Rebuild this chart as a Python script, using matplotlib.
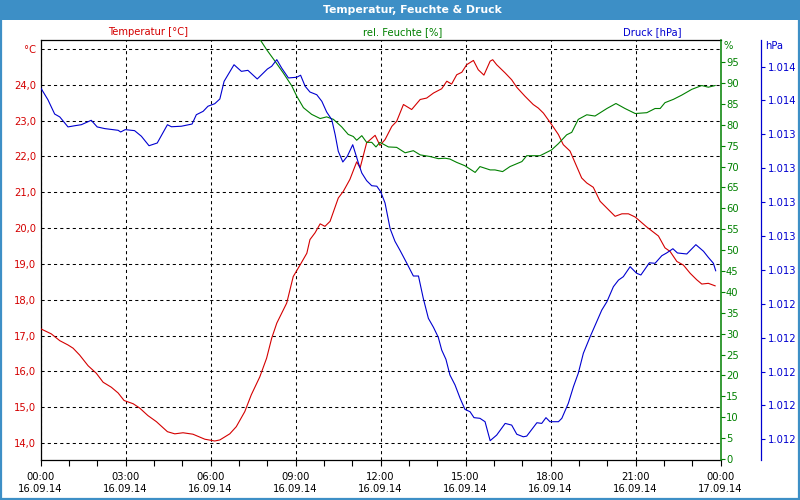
import matplotlib
matplotlib.use("Agg")
import matplotlib.pyplot as plt
from matplotlib.patches import Rectangle
from matplotlib.ticker import FixedLocator, FixedFormatter, MultipleLocator

plt.rcParams['font.family'] = ['DejaVu Sans']

# ---------------- data ----------------
temp_hours = [0.01, 0.38, 0.68, 0.97, 1.15, 1.38, 1.68, 1.97, 2.21, 2.50, 2.74, 2.95, 3.27, 3.50,
              3.79, 4.09, 4.48, 4.74, 5.03, 5.38, 5.80, 6.15, 6.33, 6.68, 6.91, 7.21, 7.44, 7.74,
              7.98, 8.16, 8.34, 8.69, 8.92, 9.16, 9.40, 9.51, 9.69, 9.87, 10.04, 10.22, 10.51,
              10.69, 10.92, 11.16, 11.28, 11.51, 11.81, 11.98, 12.16, 12.40, 12.57, 12.81, 13.10,
              13.40, 13.63, 13.87, 14.16, 14.34, 14.51, 14.69, 14.87, 15.04, 15.28, 15.45, 15.65,
              15.87, 15.96, 16.10, 16.40, 16.63, 16.81, 17.10, 17.39, 17.57, 17.75, 18.04, 18.28,
              18.45, 18.69, 18.87, 19.10, 19.28, 19.51, 19.75, 20.04, 20.28, 20.52, 20.75, 20.99,
              21.40, 21.81, 22.04, 22.22, 22.46, 22.69, 22.93, 23.16, 23.34, 23.57, 23.81]
temperature = [17.19, 17.05, 16.86, 16.74, 16.65, 16.46, 16.16, 15.95, 15.70, 15.56, 15.40, 15.19,
               15.10, 14.98, 14.77, 14.60, 14.32, 14.26, 14.29, 14.25, 14.11, 14.06, 14.09, 14.26,
               14.46, 14.88, 15.35, 15.85, 16.37, 16.93, 17.35, 17.91, 18.65, 18.97, 19.30, 19.68,
               19.87, 20.12, 20.05, 20.19, 20.84, 21.03, 21.36, 21.85, 21.68, 22.38, 22.59, 22.31,
               22.47, 22.84, 22.98, 23.45, 23.31, 23.59, 23.63, 23.77, 23.89, 24.10, 24.02, 24.28,
               24.35, 24.56, 24.68, 24.42, 24.27, 24.66, 24.70, 24.56, 24.33, 24.14, 23.93, 23.68,
               23.45, 23.35, 23.21, 22.89, 22.61, 22.33, 22.15, 21.82, 21.40, 21.26, 21.14, 20.75,
               20.52, 20.33, 20.40, 20.40, 20.31, 20.03, 19.78, 19.45, 19.35, 19.07, 18.97, 18.74,
               18.56, 18.44, 18.46, 18.39]

hum_hours = [7.75, 7.98, 8.28, 8.57, 8.87, 9.04, 9.28, 9.57, 9.87, 10.10, 10.34, 10.63, 10.86,
             11.04, 11.16, 11.34, 11.51, 11.69, 11.84, 11.98, 12.28, 12.57, 12.87, 13.16, 13.40,
             13.75, 14.04, 14.28, 14.45, 14.69, 14.98, 15.34, 15.51, 15.87, 16.04, 16.31, 16.57,
             16.99, 17.16, 17.63, 18.04, 18.28, 18.57, 18.75, 18.98, 19.28, 19.57, 19.99, 20.31,
             20.63, 20.99, 21.40, 21.69, 21.87, 22.04, 22.34, 22.63, 22.99, 23.34, 23.57, 23.81]
humidity = [100.4, 98.0, 95.2, 92.4, 89.3, 86.9, 84.1, 82.5, 81.5, 81.9, 81.3, 79.5, 77.7, 77.2,
            76.3, 77.4, 75.8, 75.8, 74.7, 75.8, 74.7, 74.6, 73.3, 73.8, 72.8, 72.4, 71.9, 72.0,
            71.8, 71.0, 70.2, 68.6, 70.0, 69.2, 69.2, 68.8, 70.0, 71.2, 72.6, 72.6, 74.0, 75.5,
            77.6, 78.2, 81.3, 82.4, 82.1, 83.9, 85.1, 83.9, 82.7, 82.9, 83.9, 83.9, 85.3, 86.1,
            87.1, 88.5, 89.4, 89.0, 89.4]

pres_hours = [0.01, 0.26, 0.50, 0.68, 0.97, 1.21, 1.44, 1.79, 2.00, 2.27, 2.74, 2.83, 2.99, 3.32,
              3.56, 3.83, 4.12, 4.48, 4.62, 4.97, 5.35, 5.50, 5.74, 5.91, 6.15, 6.33, 6.48, 6.83,
              7.09, 7.32, 7.65, 8.01, 8.16, 8.34, 8.51, 8.75, 9.04, 9.18, 9.34, 9.51, 9.75, 9.93,
              10.10, 10.28, 10.40, 10.51, 10.67, 10.83, 11.02, 11.22, 11.34, 11.51, 11.69, 11.87,
              12.01, 12.16, 12.34, 12.51, 12.69, 12.93, 13.16, 13.34, 13.51, 13.69, 13.87, 14.04,
              14.16, 14.31, 14.45, 14.63, 14.81, 14.98, 15.16, 15.30, 15.51, 15.69, 15.87, 16.10,
              16.40, 16.63, 16.81, 17.04, 17.16, 17.52, 17.69, 17.84, 17.98, 18.28, 18.40, 18.63,
              18.81, 18.98, 19.16, 19.40, 19.63, 19.81, 19.99, 20.22, 20.40, 20.57, 20.81, 21.04,
              21.19, 21.49, 21.69, 21.93, 22.10, 22.32, 22.48, 22.81, 23.13, 23.40, 23.57, 23.75,
              23.83]
pressure = [1013.674, 1013.605, 1013.520, 1013.503, 1013.444, 1013.451, 1013.457, 1013.483,
            1013.444, 1013.434, 1013.424, 1013.414, 1013.428, 1013.422, 1013.389, 1013.333,
            1013.349, 1013.457, 1013.445, 1013.448, 1013.461, 1013.516, 1013.536, 1013.566,
            1013.581, 1013.609, 1013.713, 1013.811, 1013.772, 1013.778, 1013.727, 1013.786,
            1013.802, 1013.841, 1013.792, 1013.733, 1013.737, 1013.749, 1013.684, 1013.650,
            1013.634, 1013.595, 1013.532, 1013.487, 1013.398, 1013.300, 1013.237, 1013.271,
            1013.339, 1013.231, 1013.172, 1013.127, 1013.097, 1013.094, 1013.060, 1012.995,
            1012.843, 1012.769, 1012.715, 1012.639, 1012.564, 1012.564, 1012.432, 1012.314,
            1012.261, 1012.202, 1012.127, 1012.072, 1011.980, 1011.921, 1011.842, 1011.777,
            1011.763, 1011.728, 1011.724, 1011.704, 1011.592, 1011.625, 1011.694, 1011.684,
            1011.630, 1011.615, 1011.619, 1011.698, 1011.694, 1011.728, 1011.704, 1011.704,
            1011.724, 1011.813, 1011.911, 1011.990, 1012.108, 1012.206, 1012.294, 1012.363,
            1012.412, 1012.501, 1012.540, 1012.560, 1012.619, 1012.580, 1012.570, 1012.642,
            1012.639, 1012.684, 1012.700, 1012.725, 1012.700, 1012.694, 1012.749, 1012.710,
            1012.674, 1012.639, 1012.595]

time_ticks = [0, 3, 6, 9, 12, 15, 18, 21, 24]
time_labels = ["00:00\n16.09.14", "03:00\n16.09.14", "06:00\n16.09.14", "09:00\n16.09.14",
               "12:00\n16.09.14", "15:00\n16.09.14", "18:00\n16.09.14", "21:00\n16.09.14",
               "00:00\n17.09.14"]
temp_ticks = [14, 15, 16, 17, 18, 19, 20, 21, 22, 23, 24, 25]
temp_labels = ["14,0", "15,0", "16,0", "17,0", "18,0", "19,0", "20,0", "21,0", "22,0",
               "23,0", "24,0", "°C"]
hum_ticks = list(range(0, 100, 5))
pres_ticks = [1011.6, 1011.8, 1012.0, 1012.2, 1012.4, 1012.6, 1012.8, 1013.0, 1013.2,
              1013.4, 1013.6, 1013.8]
pres_labels = ["1.012", "1.012", "1.012", "1.012", "1.012", "1.013", "1.013", "1.013",
               "1.013", "1.013", "1.014", "1.014"]

# ---------------- styling ----------------
RED = '#d40000'
GREEN = '#008000'
BLUE = '#0000d0'
FRAME = '#3d8fc6'
FS = 7.2
LW = 0.8

fig = plt.figure(figsize=(8, 5), dpi=100)
fig.patch.set_facecolor('white')

# title bar and border
fig.add_artist(Rectangle((0, 480 / 500), 1, 20 / 500, transform=fig.transFigure,
                         facecolor=FRAME, edgecolor='none', zorder=0))
fig.add_artist(Rectangle((0.001, 0.002), 0.998, 0.996, transform=fig.transFigure,
                         fill=False, edgecolor=FRAME, linewidth=1.6, zorder=5))
fig.text(0.516, 1 - 10 / 500, "Temperatur, Feuchte & Druck", color='white',
         fontsize=FS + 0.6, fontweight='bold', ha='center', va='center')

ax1 = fig.add_axes([40.5 / 800, 40 / 500, 680 / 800, 420 / 500])
ax1.set_xlim(0, 24)
ax1.set_ylim(13.53, 25.25)
ax1.plot(temp_hours, temperature, color=RED, lw=LW, zorder=3)

ax1.xaxis.set_major_locator(FixedLocator(time_ticks))
ax1.xaxis.set_major_formatter(FixedFormatter(time_labels))
ax1.xaxis.set_minor_locator(MultipleLocator(1))
ax1.yaxis.set_major_locator(FixedLocator(temp_ticks))
ax1.yaxis.set_major_formatter(FixedFormatter(temp_labels))
ax1.tick_params(axis='x', which='both', direction='out', length=4, width=0.8,
                labelsize=FS, pad=5)
ax1.tick_params(axis='y', length=0, pad=3, labelsize=FS, labelcolor=RED)
ax1.grid(True, which='major', color='black', linestyle=(0, (3, 3)), linewidth=0.75)
for s in ['left', 'top', 'bottom']:
    ax1.spines[s].set_color('black')
    ax1.spines[s].set_linewidth(0.9)
ax1.spines['right'].set_visible(False)

# humidity axis
ax2 = ax1.twinx()
ax2.set_ylim(-0.24, 100.3)
ax2.plot(hum_hours, humidity, color=GREEN, lw=LW, zorder=3)
ax2.yaxis.set_major_locator(FixedLocator(hum_ticks))
ax2.tick_params(axis='y', direction='out', length=3, width=0.8, color=GREEN,
                labelcolor=GREEN, labelsize=FS, pad=1)
for s in ['left', 'top', 'bottom']:
    ax2.spines[s].set_visible(False)
ax2.spines['right'].set_color(GREEN)
ax2.spines['right'].set_linewidth(1.1)

# pressure axis
ax3 = ax1.twinx()
ax3.set_ylim(1011.478, 1013.957)
ax3.plot(pres_hours, pressure, color=BLUE, lw=LW, zorder=3)
ax3.spines['right'].set_position(('axes', (761 - 40.5) / 680))
ax3.spines['right'].set_color(BLUE)
ax3.spines['right'].set_linewidth(0.9)
for s in ['left', 'top', 'bottom']:
    ax3.spines[s].set_visible(False)
ax3.yaxis.set_major_locator(FixedLocator(pres_ticks))
ax3.yaxis.set_major_formatter(FixedFormatter(pres_labels))
ax3.tick_params(axis='y', direction='out', length=3, width=0.8, color=BLUE,
                labelcolor=BLUE, labelsize=FS, pad=2)

# series titles & units
fig.text(148 / 800, 1 - 32 / 500, "Temperatur [°C]", color=RED, fontsize=FS,
         ha='center', va='center')
fig.text(403 / 800, 1 - 32 / 500, "rel. Feuchte [%]", color=GREEN, fontsize=FS,
         ha='center', va='center')
fig.text(652 / 800, 1 - 32 / 500, "Druck [hPa]", color=BLUE, fontsize=FS,
         ha='center', va='center')
fig.text(724 / 800, 1 - 46 / 500, "%", color=GREEN, fontsize=FS, ha='left', va='center')
fig.text(765 / 800, 1 - 46 / 500, "hPa", color=BLUE, fontsize=FS, ha='left', va='center')

fig.savefig("out.png", dpi=100)
